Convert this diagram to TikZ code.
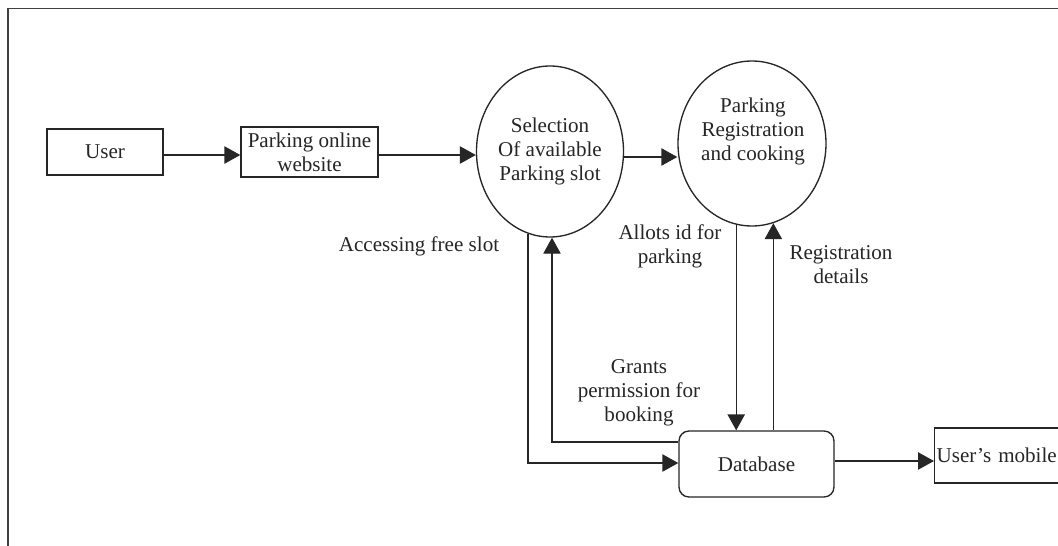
\documentclass[tikz,border=0pt]{standalone}
\usepackage{fontspec}
\setmainfont{Liberation Serif}
\usetikzlibrary{shapes.geometric,arrows.meta}
\begin{document}
\begin{tikzpicture}[x=0.75pt,y=-0.75pt,
  every node/.style={font=\fontsize{15.8}{18}\selectfont, text=black!85},
  ln/.style={line width=1pt, draw=black!85},
  arr/.style={ln, -{Triangle[length=12pt,width=13pt]}},
  boxnode/.style={ln, rectangle, inner sep=0pt, align=center},
  proc/.style={ln, ellipse, inner sep=0pt, align=center},
  lbl/.style={align=center, inner sep=0pt}]
\clip (0,0) rectangle (1058,546);
\fill[white] (0,0) rectangle (1058,546);
\draw[line width=1.1pt, draw=black!75] (8,560) -- (8,8.5) -- (1070,8.5);

\node[boxnode, minimum width=87pt, minimum height=34.5pt] (user) at (105,152) {User};
\node[boxnode, minimum width=102.75pt, minimum height=37.5pt] (web) at (309.5,152) {Parking online\\website};
\node[proc, minimum width=110.25pt, minimum height=128.25pt] (sel) at (550,151.5) {Selection\\Of available\\Parking slot};
\node[proc, minimum width=111pt, minimum height=123.75pt] (reg) at (752,143.5) {};
\node[lbl] (regt) at (753,131) {Parking\\Registration\\and cooking};
\node[ln, rectangle, rounded corners=7.5pt, minimum width=116.25pt, minimum height=49.5pt] (db) at (756.5,464) {Database};
\node[ln, rectangle, anchor=west, minimum height=41.25pt, inner xsep=1.5pt, text width=110pt, align=left] (mob) at (934,455.5) {User’s mobile};

\node[lbl] (l1) at (419,246) {Accessing free slot};
\node[lbl] (l2) at (670,246) {Allots id for\\parking};
\node[lbl] (l3) at (841,265) {Registration\\details};
\node[lbl] (l4) at (639,393) {Grants\\permission for\\booking};

\draw[arr] (user.east |- 0,155) -- (web.west |- 0,155);
\draw[arr] (web.east |- 0,155) -- (sel.west |- 0,155);
\draw[arr] (sel.east |- 0,157) -- (reg.west |- 0,157);
\draw[arr] (sel.255) |- (db.west |- 0,463);
\draw[arr] (db.west |- 0,442) -| (sel.south -| 552,0);
\draw[arr] (reg.259.5) -- (reg.259.5 |- db.north);
\draw[arr] (reg.285.6 |- db.north) -- (reg.285.6);
\draw[arr] (db.east |- 0,461) -- (mob.west |- 0,461);
\end{tikzpicture}
\end{document}
